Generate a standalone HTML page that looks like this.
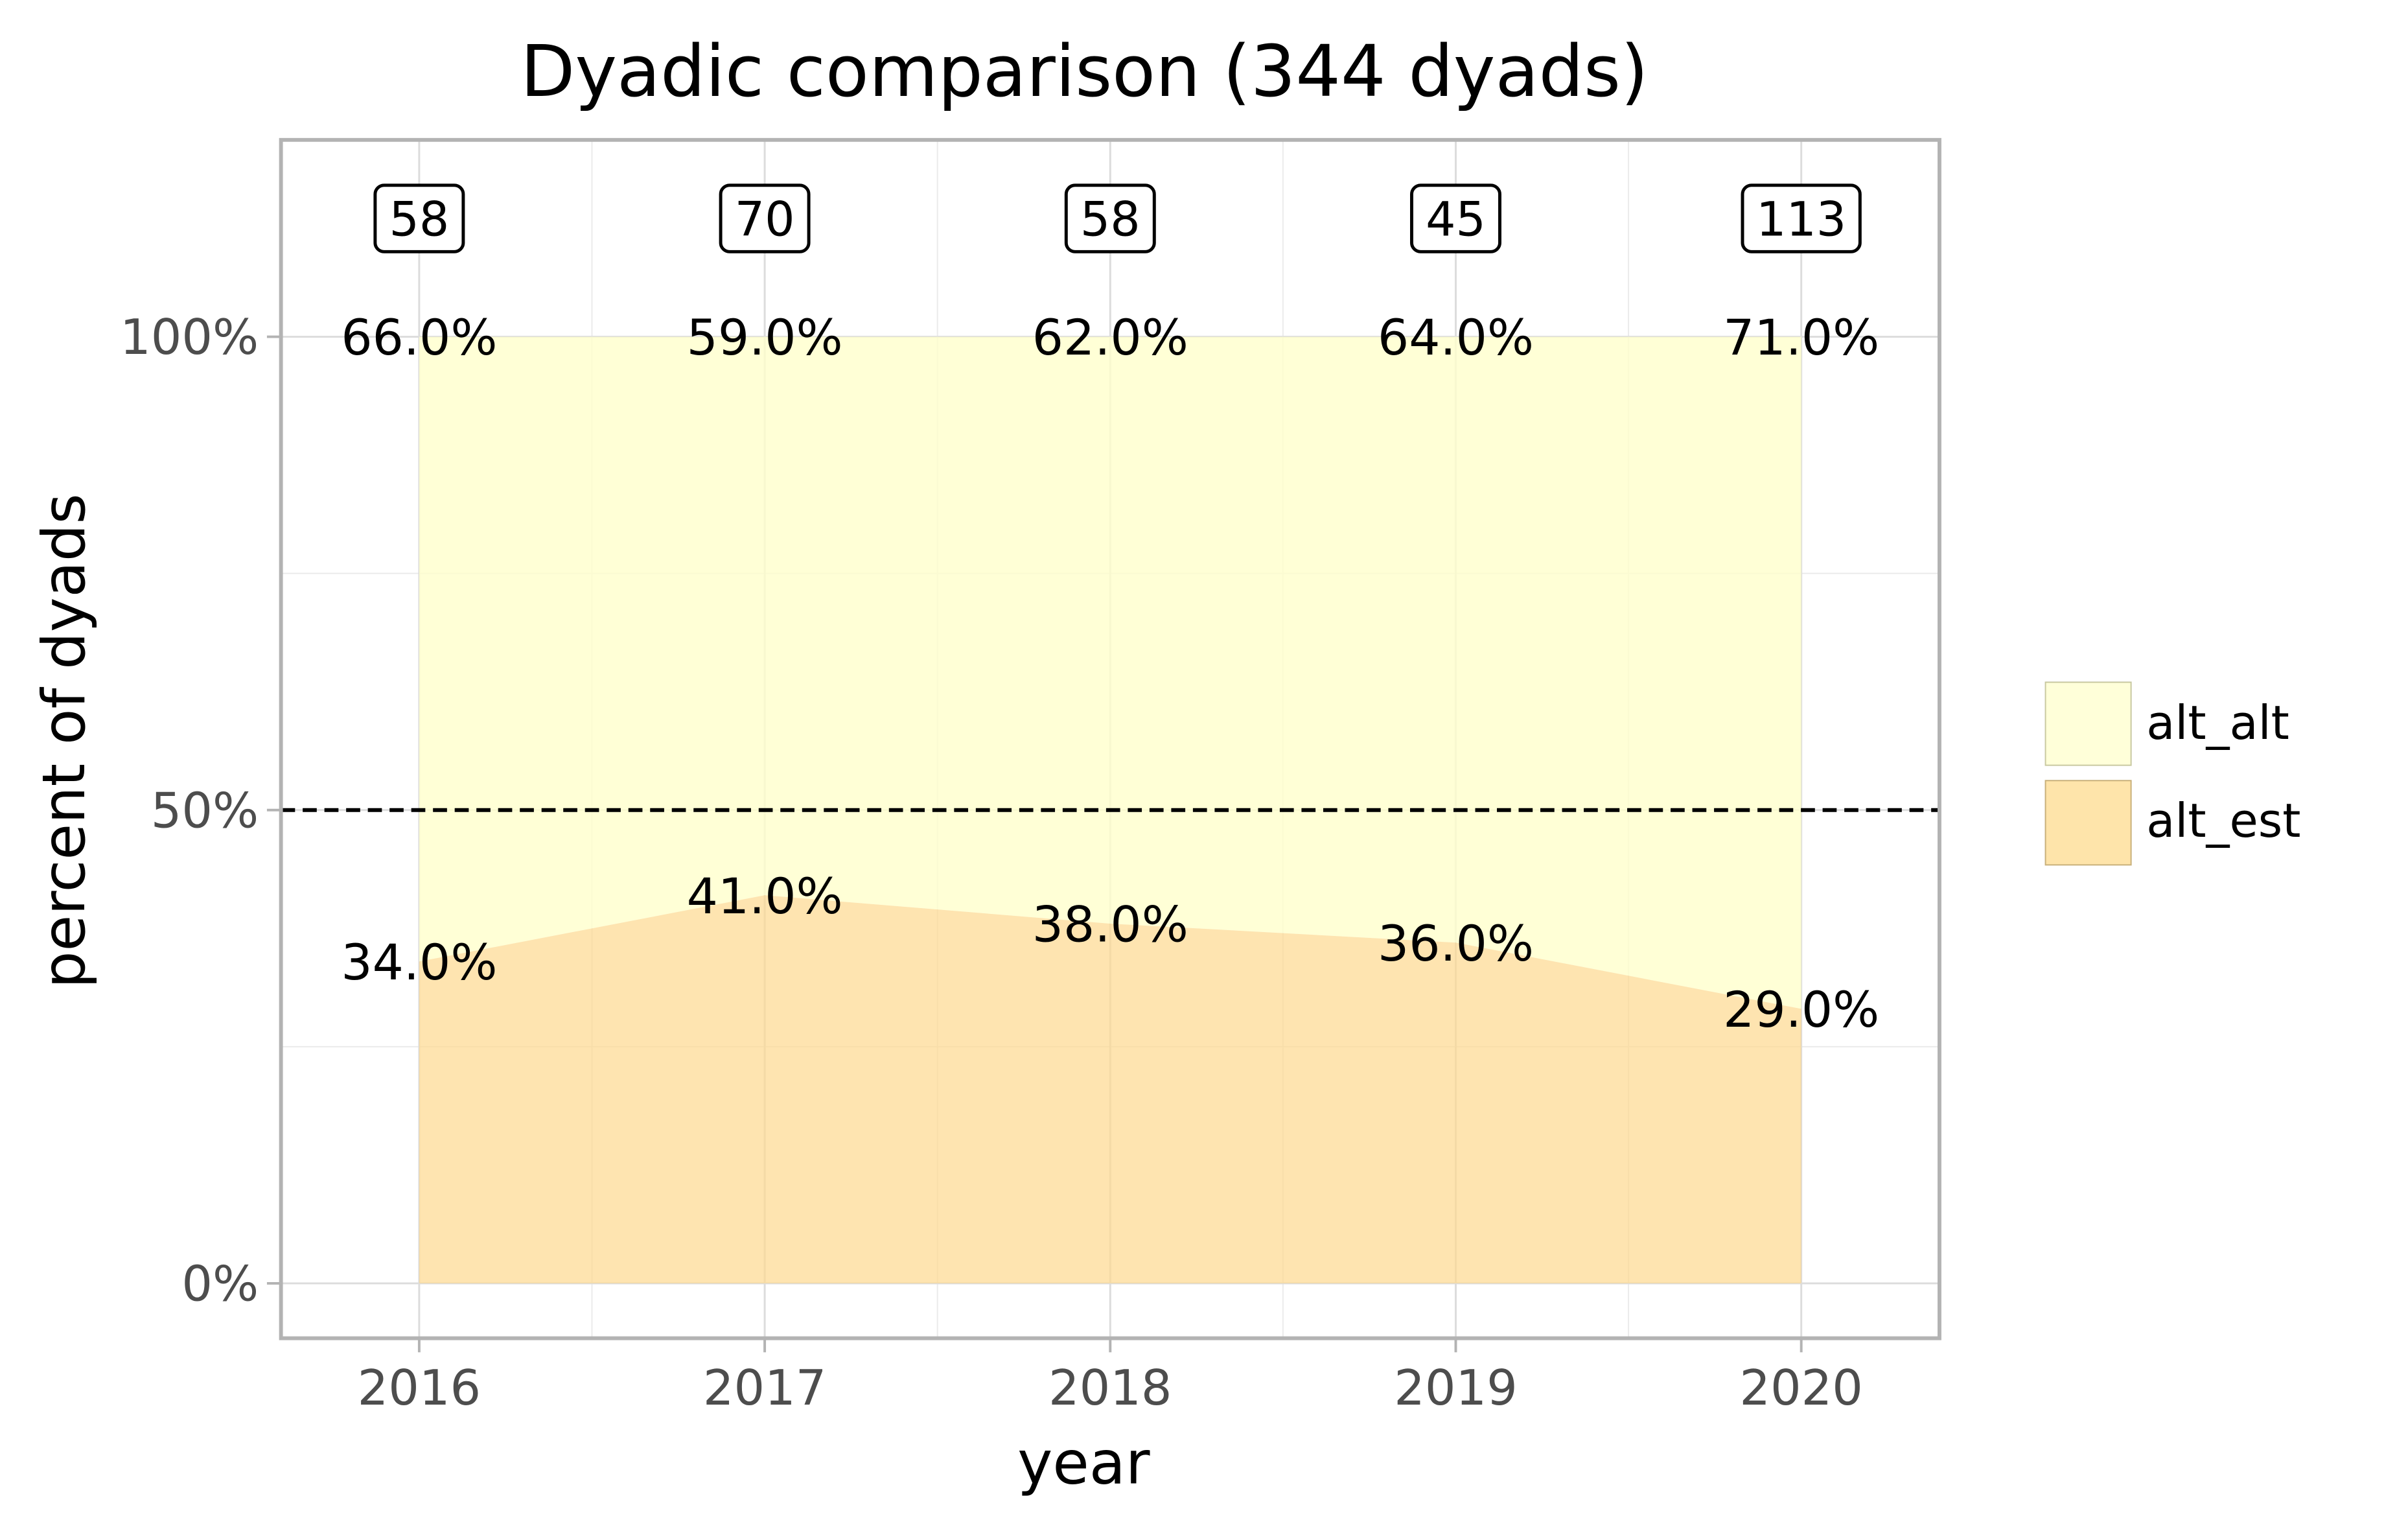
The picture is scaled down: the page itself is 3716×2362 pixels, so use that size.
<!DOCTYPE html>
<html><head><meta charset="utf-8"><style>
html,body{margin:0;padding:0;background:#fff}
svg{display:block}
text{font-family:"DejaVu Sans","Liberation Sans",sans-serif}
</style></head><body>
<svg width="3716" height="2362" viewBox="0 0 3716 2362" xmlns="http://www.w3.org/2000/svg">
<rect width="3716" height="2362" fill="#fff"/>
<g id="chart" transform="scale(0.9855)">
<g id="grid"></g>
<g id="areas"></g>
<g id="overlay"></g>
<text x="1698" y="150" font-size="111" text-anchor="middle" fill="#000">Dyadic comparison (344 dyads)</text>
<text x="1697" y="2322" font-size="93" text-anchor="middle" fill="#000">year</text>
<text x="0" y="0" font-size="92" text-anchor="middle" fill="#000" transform="translate(132,1160) rotate(-90)">percent of dyads</text>
<g>
<rect x="3203" y="1068" width="134" height="130" fill="#ffffd9" stroke="#c8c8a0" stroke-width="2"/>
<text x="3361" y="1157" font-size="73" fill="#000">alt_alt</text>
<rect x="3203" y="1222" width="134" height="132" fill="#fee4aa" stroke="#c8b07a" stroke-width="2"/>
<text x="3361" y="1310" font-size="73" fill="#000">alt_est</text>
</g>
</g>
</svg>
<script>
const years = [2016, 2017, 2018, 2019, 2020];
const altEst = [34, 41, 38, 36, 29];
const altAlt = [66, 59, 62, 64, 71];
const counts = [58, 70, 58, 45, 113];
const yTicks = [0, 50, 100];
const yTickLabels = ["0%", "50%", "100%"];

const NS = "http://www.w3.org/2000/svg";
const L = 440, R = 3037, T = 219, B = 2095;
const xMin = 2015.6, xMax = 2020.4, yMin = -5.8, yMax = 120.8;
function xs(v){ return L + (v - xMin) / (xMax - xMin) * (R - L); }
function ys(v){ return B - (v - yMin) / (yMax - yMin) * (B - T); }
function mk(tag, attrs, parent){ const e = document.createElementNS(NS, tag); for (const k in attrs) e.setAttribute(k, attrs[k]); parent.appendChild(e); return e; }

const grid = document.getElementById('grid');
const areas = document.getElementById('areas');
const ov = document.getElementById('overlay');
const svg = document.getElementById('chart');

for (let i = 0; i < years.length - 1; i++) {
  const xm = xs((years[i] + years[i+1]) / 2);
  const g = mk('line', {x1:xm, x2:xm, y1:T, y2:B, stroke:'#ebebeb', 'stroke-width':2}, grid);
  
  
}
for (let i = 0; i < yTicks.length - 1; i++) {
  const ym = ys((yTicks[i] + yTicks[i+1]) / 2);
  const g = mk('line', {x1:L, x2:R, y1:ym, y2:ym, stroke:'#ebebeb', 'stroke-width':2}, grid);
  
  
}
years.forEach((yr) => {
  const x = xs(yr);
  const g = mk('line', {x1:x, x2:x, y1:T, y2:B, stroke:'#dcdcdc', 'stroke-width':3}, grid);
  
  
  const t = mk('line', {x1:x, x2:x, y1:B, y2:B+22, stroke:'#b3b3b3', 'stroke-width':4}, svg);
  
  
  const lb = mk('text', {x:x, y:B+104, 'font-size':76, 'text-anchor':'middle', fill:'#4d4d4d'}, svg);
  lb.textContent = yr;
  
  
});
yTicks.forEach((v, i) => {
  const y = ys(v);
  const g = mk('line', {x1:L, x2:R, y1:y, y2:y, stroke:'#dcdcdc', 'stroke-width':3}, grid);
  
  
  const t = mk('line', {x1:L-22, x2:L, y1:y, y2:y, stroke:'#b3b3b3', 'stroke-width':4}, svg);
  
  
  const lb = mk('text', {x:L-35, y:y+27, 'font-size':76, 'text-anchor':'end', fill:'#4d4d4d'}, svg);
  lb.textContent = yTickLabels[i];
  
  
});

let estPts = years.map((yr, i) => xs(yr) + ',' + ys(altEst[i])).join(' ');
let estPoly = estPts + ' ' + xs(years[years.length-1]) + ',' + ys(0) + ' ' + xs(years[0]) + ',' + ys(0);
let altTop = years.map((yr, i) => xs(yr) + ',' + ys(altEst[i] + altAlt[i])).join(' ');
let altBot = years.slice().reverse().map((yr, j) => { const i = years.length - 1 - j; return xs(yr) + ',' + ys(altEst[i]); }).join(' ');
const a1 = mk('polygon', {points: altTop + ' ' + altBot, fill:'#ffffcc', 'fill-opacity':0.8}, areas);


const a2 = mk('polygon', {points: estPoly, fill:'#fed98e', 'fill-opacity':0.7}, areas);



const d = mk('line', {x1:L, x2:R, y1:ys(50), y2:ys(50), stroke:'#000', 'stroke-width':6, 'stroke-dasharray':'22,12'}, ov);



years.forEach((yr, i) => {
  const x = xs(yr);
  const t1 = mk('text', {x:x, y:ys(altEst[i] + altAlt[i]) + 28, 'font-size':77, 'text-anchor':'middle', fill:'#000'}, ov);
  t1.textContent = altAlt[i].toFixed(1) + '%';
  
  
  const t2 = mk('text', {x:x, y:ys(altEst[i]) + 28, 'font-size':77, 'text-anchor':'middle', fill:'#000'}, ov);
  t2.textContent = altEst[i].toFixed(1) + '%';
  
  
  const s = String(counts[i]);
  const w = s.length * 46 + 46;
  const cy = ys(112.5);
  const r = mk('rect', {x:x - w/2, y:cy - 52, width:w, height:104, rx:14, fill:'#fff', stroke:'#000', 'stroke-width':5}, ov);
  
  
  const tc = mk('text', {x:x, y:cy + 27, 'font-size':74, 'text-anchor':'middle', fill:'#000'}, ov);
  tc.textContent = s;
  
  
});

const pb = mk('rect', {x:L, y:T, width:R-L, height:B-T, fill:'none', stroke:'#b3b3b3', 'stroke-width':6}, svg);


</script>
</body></html>
